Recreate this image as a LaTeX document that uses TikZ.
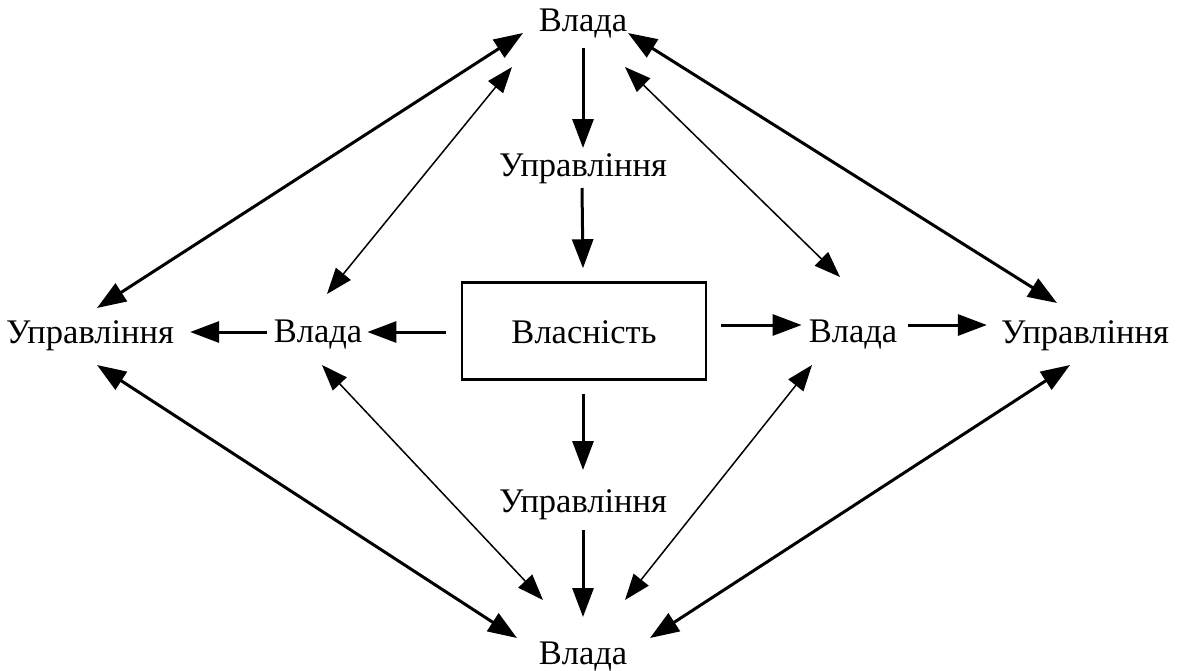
\documentclass[tikz,border=0pt]{standalone}
\usepackage{fontspec}
\setmainfont{Liberation Serif}
\newfontfamily\labelfont{Liberation Serif}
\usetikzlibrary{arrows.meta}
\begin{document}
\begin{tikzpicture}[x=1pt,y=-1pt,
  lbl/.style={font=\labelfont\fontsize{34.5}{39}\selectfont, inner sep=0pt, anchor=base},
  ownbox/.style={draw, line width=2.5pt, minimum width=244pt, minimum height=97pt},
  bold/.style={line width=3pt, -{Triangle[length=29pt,width=21pt]}},
  boldboth/.style={line width=3pt, {Triangle[length=29pt,width=21pt]}-{Triangle[length=29pt,width=21pt]}},
  fine/.style={line width=1.5pt, {Triangle[length=26pt,width=19pt]}-{Triangle[length=26pt,width=19pt]}}]
\useasboundingbox (0,0) rectangle (1177,670);

% labels
\node[lbl] (vt) at (583,31) {Влада};
\node[lbl] (ut) at (583,176) {Управління};
\node[ownbox] (own) at (584,331) {};
\node[lbl] at (584,343) {Власність};
\node[lbl] (ul) at (90,343) {Управління};
\node[lbl] (vl) at (318,342) {Влада};
\node[lbl] (vr) at (853,342) {Влада};
\node[lbl] (ur) at (1085,343) {Управління};
\node[lbl] (ub) at (583,512) {Управління};
\node[lbl] (vb) at (583,664) {Влада};

% vertical chain
\draw[bold] ([shift={(0,17)}]vt.base) -- ([shift={(0,-28)}]ut.base);
\draw[bold] ([shift={(-1,12)}]ut.base) -- ([shift={(-1,-13)}]own.north);
\draw[bold] ([shift={(-1,13)}]own.south) -- ([shift={(0,-42)}]ub.base);
\draw[bold] ([shift={(0,18)}]ub.base) -- ([shift={(0,-47)}]vb.base);

% horizontal chain
\draw[bold] ([shift={(-15,1)}]own.west) -- ([shift={(5,-10)}]vl.base east);
\draw[bold] ([shift={(-7,-10)}]vl.base west) -- ([shift={(16,-11)}]ul.base east);
\draw[bold] ([shift={(14,-6)}]own.east) -- ([shift={(-7,-17)}]vr.base west);
\draw[bold] ([shift={(11,-17)}]vr.base east) -- ([shift={(-14,-18)}]ur.base west);

% outer diamond
\draw[boldboth] ([shift={(-60,2)}]vt.base) -- ([shift={(7,-35)}]ul.base);
\draw[boldboth] ([shift={(45,2)}]vt.base) -- ([shift={(-28,-40)}]ur.base);
\draw[boldboth] ([shift={(7,22)}]ul.base) -- ([shift={(-66,-26)}]vb.base);
\draw[boldboth] ([shift={(-15,22)}]ur.base) -- ([shift={(67,-26)}]vb.base);

% inner diamond
\draw[fine] ([shift={(-71,36)}]vt.base) -- ([shift={(9,-48)}]vl.base);
\draw[fine] ([shift={(42,36)}]vt.base) -- ([shift={(-13,-65)}]vr.base);
\draw[fine] ([shift={(4,23)}]vl.base) -- ([shift={(-40,-64)}]vb.base);
\draw[fine] ([shift={(-41,23)}]vr.base) -- ([shift={(42,-64)}]vb.base);
\end{tikzpicture}
\end{document}
